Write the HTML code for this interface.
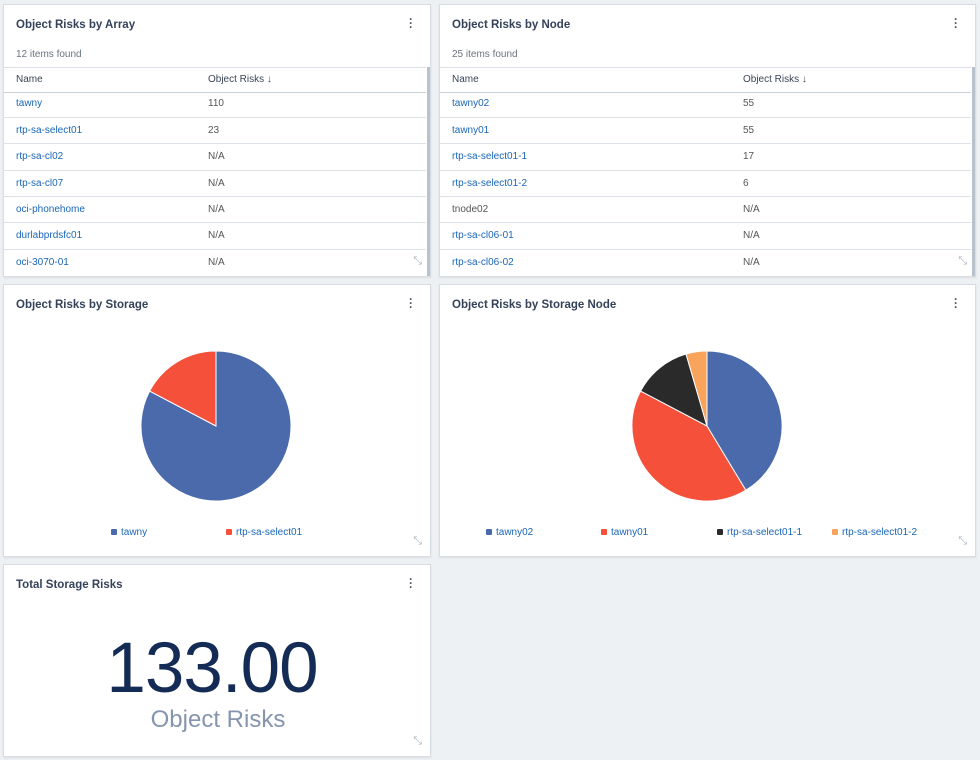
<!DOCTYPE html>
<html><head><style>
body{margin:0;width:980px;height:760px;background:#eef1f4;font-family:"Liberation Sans",sans-serif;position:relative;overflow:hidden}
.p{position:absolute;background:#fff;border:1px solid #d8dde3;box-sizing:border-box;box-shadow:0 1px 2px rgba(0,0,0,.08)}
.t{position:absolute;left:12px;top:14px;font-size:11.5px;font-weight:bold;color:#34425a}
.m{position:absolute;right:18px;top:12px;font-size:12px;color:#556;font-weight:bold;line-height:4px;width:3px;text-align:center}
.c{position:absolute;font-size:10px;color:#6a7480}
.row{position:absolute;left:0;right:4px;height:26px;border-top:1px solid #dde2e8;font-size:10px}
.row span{position:absolute;top:7px}
.a{color:#1a66b8}.v{color:#555}
.hd{position:absolute;left:0;right:4px;top:62px;height:24px;border-top:1px solid #dde2e8;border-bottom:1px solid #c9d0d8;font-size:10px;color:#3b4656}
.hd span{position:absolute;top:6px}
.sb{position:absolute;right:0;top:62px;bottom:0;width:3px;background:#b8c2cc}
.ex{position:absolute;right:8px;bottom:8px;font-size:11px;color:#aab4c0}
.lg{position:absolute;font-size:10px;color:#1a66b8}
.lg i{display:inline-block;width:6px;height:6px;border-radius:1px;margin-right:4px;vertical-align:0}
</style></head><body>

<div class="p" style="left:3px;top:4px;width:428px;height:273px">
<div class="t">Object Risks by Array</div><div class="m">·<br>·<br>·</div>
<div class="c" style="left:12px;top:44px">12 items found</div>
<div class="hd"><span style="left:12px">Name</span><span style="left:204px">Object Risks ↓</span></div>
<div class="sb"></div>
<div class="row" style="top:86px;border-top:none"><span class="a" style="left:12px">tawny</span><span class="v" style="left:204px">110</span></div>
<div class="row" style="top:112px"><span class="a" style="left:12px">rtp-sa-select01</span><span class="v" style="left:204px">23</span></div>
<div class="row" style="top:138px"><span class="a" style="left:12px">rtp-sa-cl02</span><span class="v" style="left:204px">N/A</span></div>
<div class="row" style="top:165px"><span class="a" style="left:12px">rtp-sa-cl07</span><span class="v" style="left:204px">N/A</span></div>
<div class="row" style="top:191px"><span class="a" style="left:12px">oci-phonehome</span><span class="v" style="left:204px">N/A</span></div>
<div class="row" style="top:217px"><span class="a" style="left:12px">durlabprdsfc01</span><span class="v" style="left:204px">N/A</span></div>
<div class="row" style="top:244px"><span class="a" style="left:12px">oci-3070-01</span><span class="v" style="left:204px">N/A</span></div>
<div class="ex">⤡</div>
</div>

<div class="p" style="left:439px;top:4px;width:537px;height:273px">
<div class="t">Object Risks by Node</div><div class="m">·<br>·<br>·</div>
<div class="c" style="left:12px;top:44px">25 items found</div>
<div class="hd"><span style="left:12px">Name</span><span style="left:303px">Object Risks ↓</span></div>
<div class="sb"></div>
<div class="row" style="top:86px;border-top:none"><span class="a" style="left:12px">tawny02</span><span class="v" style="left:303px">55</span></div>
<div class="row" style="top:112px"><span class="a" style="left:12px">tawny01</span><span class="v" style="left:303px">55</span></div>
<div class="row" style="top:138px"><span class="a" style="left:12px">rtp-sa-select01-1</span><span class="v" style="left:303px">17</span></div>
<div class="row" style="top:165px"><span class="a" style="left:12px">rtp-sa-select01-2</span><span class="v" style="left:303px">6</span></div>
<div class="row" style="top:191px"><span class="v" style="left:12px">tnode02</span><span class="v" style="left:303px">N/A</span></div>
<div class="row" style="top:217px"><span class="a" style="left:12px">rtp-sa-cl06-01</span><span class="v" style="left:303px">N/A</span></div>
<div class="row" style="top:244px"><span class="a" style="left:12px">rtp-sa-cl06-02</span><span class="v" style="left:303px">N/A</span></div>
<div class="ex">⤡</div>
</div>

<div class="p" style="left:3px;top:284px;width:428px;height:273px">
<div class="t">Object Risks by Storage</div><div class="m">·<br>·<br>·</div>
<div class="lg" style="left:107px;top:242px"><i style="background:#4a6aab"></i>tawny</div>
<div class="lg" style="left:222px;top:242px"><i style="background:#f4503a"></i>rtp-sa-select01</div>
<div class="ex">⤡</div>
</div>

<div class="p" style="left:439px;top:284px;width:537px;height:273px">
<div class="t">Object Risks by Storage Node</div><div class="m">·<br>·<br>·</div>
<div class="lg" style="left:46px;top:242px"><i style="background:#4a6aab"></i>tawny02</div>
<div class="lg" style="left:161px;top:242px"><i style="background:#f4503a"></i>tawny01</div>
<div class="lg" style="left:277px;top:242px"><i style="background:#2a2a2a"></i>rtp-sa-select01-1</div>
<div class="lg" style="left:392px;top:242px"><i style="background:#f8a45c"></i>rtp-sa-select01-2</div>
<div class="ex">⤡</div>
</div>

<div class="p" style="left:3px;top:564px;width:428px;height:193px">
<div class="t">Total Storage Risks</div><div class="m">·<br>·<br>·</div>
<div style="position:absolute;left:-6px;width:428px;top:63px;text-align:center;font-size:71px;color:#142c55;letter-spacing:-1px">133.00</div>
<div style="position:absolute;left:0;width:428px;top:141px;text-align:center;font-size:24px;color:#8595ad">Object Risks</div>
<div class="ex">⤡</div>
</div>

<svg style="position:absolute;left:0;top:0" width="980" height="760">
<g stroke="#fff" stroke-width="1">
<path d="M216,426 L216,351 A75,75 0 1 1 149.6,391.1 Z" fill="#4a6aab"/>
<path d="M216,426 L149.6,391.1 A75,75 0 0 1 216,351 Z" fill="#f4503a"/>
<path d="M707,426 L707,351 A75,75 0 0 1 745.8,490.2 Z" fill="#4a6aab"/>
<path d="M707,426 L745.8,490.2 A75,75 0 0 1 640.6,391.1 Z" fill="#f4503a"/>
<path d="M707,426 L640.6,391.1 A75,75 0 0 1 686.0,354.0 Z" fill="#2a2a2a"/>
<path d="M707,426 L686.0,354.0 A75,75 0 0 1 707,351 Z" fill="#f8a45c"/>
</g>
</svg>
</body></html>
